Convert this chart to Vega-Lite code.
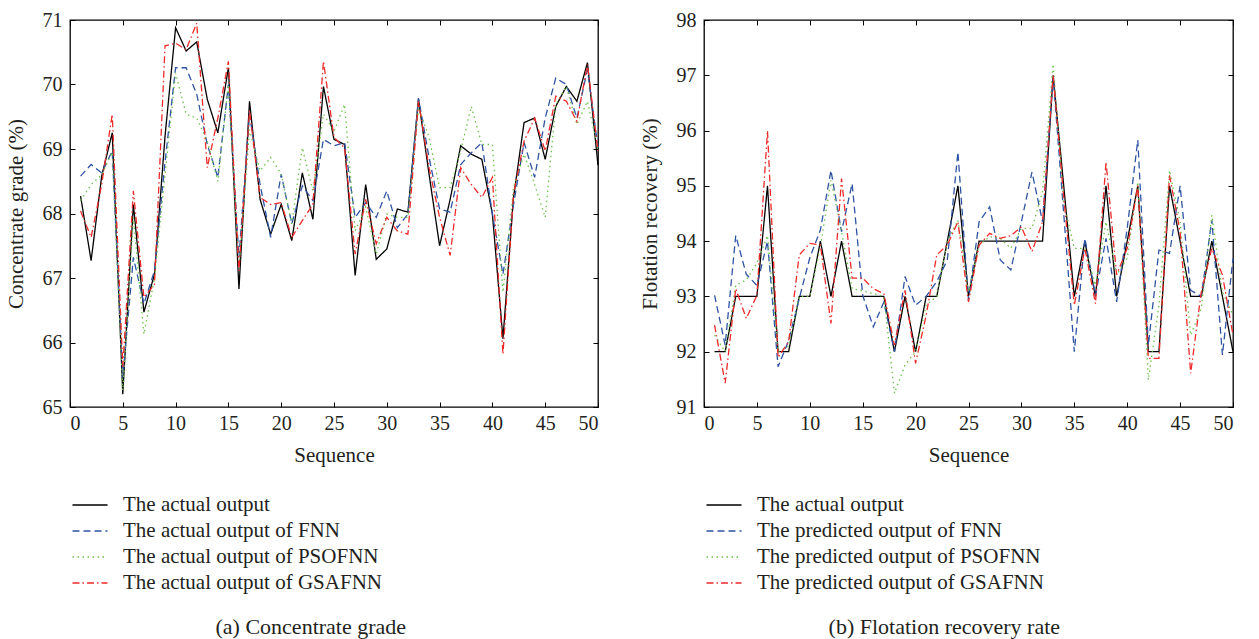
{
  "$schema": "https://vega.github.io/schema/vega-lite/v6.json",
  "padding": {"left": 4, "top": 9, "right": 5, "bottom": 0},
  "background": "white",
  "config": {
    "font": "Liberation Serif",
    "view": {"stroke": "#000", "strokeWidth": 1.3},
    "axis": {
      "labelFont": "Liberation Serif", "labelFontSize": 20, "labelColor": "#231f20",
      "titleFont": "Liberation Serif", "titleFontSize": 21, "titleFontWeight": "normal", "titleColor": "#231f20",
      "domain": false, "grid": false, "tickColor": "#000", "tickSize": -5, "tickWidth": 1
    },
    "legend": {"labelFont": "Liberation Serif", "labelFontSize": 21, "labelColor": "#231f20", "labelLimit": 0},
    "title": {"font": "Liberation Serif", "fontSize": 22, "fontWeight": "normal", "color": "#231f20"}
  },
  "resolve": {"scale": {"color": "independent", "strokeDash": "independent"}, "legend": {"color": "independent", "strokeDash": "independent"}},
  "datasets": {
    "grade": [
      {"seq":1,"a":68.27,"f":68.58,"p":68.2,"g":68.04},
      {"seq":2,"a":67.27,"f":68.76,"p":68.45,"g":67.63},
      {"seq":3,"a":68.58,"f":68.63,"p":68.6,"g":68.45},
      {"seq":4,"a":69.25,"f":68.97,"p":68.95,"g":69.54},
      {"seq":5,"a":65.2,"f":65.46,"p":65.26,"g":65.62},
      {"seq":6,"a":68.14,"f":67.32,"p":67.94,"g":68.35},
      {"seq":7,"a":66.47,"f":66.6,"p":66.13,"g":66.7},
      {"seq":8,"a":67.06,"f":67.11,"p":67.0,"g":66.9},
      {"seq":9,"a":69.2,"f":68.8,"p":68.6,"g":70.6},
      {"seq":10,"a":70.88,"f":70.26,"p":70.18,"g":70.64},
      {"seq":11,"a":70.52,"f":70.26,"p":69.54,"g":70.54},
      {"seq":12,"a":70.66,"f":69.85,"p":69.48,"g":70.95},
      {"seq":13,"a":69.77,"f":69.07,"p":69.12,"g":68.71},
      {"seq":14,"a":69.25,"f":68.56,"p":68.5,"g":69.48},
      {"seq":15,"a":70.26,"f":70.0,"p":70.0,"g":70.36},
      {"seq":16,"a":66.83,"f":67.32,"p":67.16,"g":67.11},
      {"seq":17,"a":69.74,"f":69.54,"p":69.3,"g":69.6},
      {"seq":18,"a":68.22,"f":68.45,"p":68.66,"g":68.25},
      {"seq":19,"a":67.68,"f":67.63,"p":68.87,"g":68.14},
      {"seq":20,"a":68.14,"f":68.61,"p":68.61,"g":68.17},
      {"seq":21,"a":67.58,"f":67.84,"p":67.84,"g":67.63},
      {"seq":22,"a":68.63,"f":68.43,"p":69.02,"g":67.89},
      {"seq":23,"a":67.91,"f":68.2,"p":68.35,"g":68.14},
      {"seq":24,"a":69.97,"f":69.15,"p":69.54,"g":70.36},
      {"seq":25,"a":69.15,"f":69.05,"p":69.28,"g":69.18},
      {"seq":26,"a":69.07,"f":69.1,"p":69.69,"g":69.02},
      {"seq":27,"a":67.04,"f":67.94,"p":67.73,"g":67.37},
      {"seq":28,"a":68.45,"f":68.17,"p":68.1,"g":68.22},
      {"seq":29,"a":67.29,"f":67.94,"p":67.37,"g":67.53},
      {"seq":30,"a":67.45,"f":68.35,"p":67.99,"g":67.94},
      {"seq":31,"a":68.07,"f":67.78,"p":67.94,"g":67.73},
      {"seq":32,"a":68.02,"f":67.99,"p":67.94,"g":67.68},
      {"seq":33,"a":69.77,"f":69.79,"p":69.64,"g":69.74},
      {"seq":34,"a":68.61,"f":68.87,"p":69.18,"g":68.71},
      {"seq":35,"a":67.5,"f":68.07,"p":68.4,"g":67.94},
      {"seq":36,"a":68.22,"f":68.02,"p":68.4,"g":67.35},
      {"seq":37,"a":69.05,"f":68.76,"p":68.97,"g":68.71},
      {"seq":38,"a":68.92,"f":68.94,"p":69.66,"g":68.45},
      {"seq":39,"a":68.84,"f":69.1,"p":69.07,"g":68.25},
      {"seq":40,"a":67.99,"f":67.99,"p":69.07,"g":68.56},
      {"seq":41,"a":66.06,"f":67.06,"p":66.78,"g":65.82},
      {"seq":42,"a":68.25,"f":68.14,"p":68.4,"g":68.3},
      {"seq":43,"a":69.41,"f":69.1,"p":68.92,"g":69.12},
      {"seq":44,"a":69.48,"f":68.56,"p":68.45,"g":69.48},
      {"seq":45,"a":68.84,"f":69.48,"p":67.94,"g":68.97},
      {"seq":46,"a":69.66,"f":70.1,"p":69.69,"g":69.82},
      {"seq":47,"a":69.97,"f":70.0,"p":69.97,"g":69.74},
      {"seq":48,"a":69.74,"f":69.48,"p":69.38,"g":69.43},
      {"seq":49,"a":70.34,"f":70.23,"p":69.74,"g":70.31},
      {"seq":50,"a":68.75,"f":69.02,"p":69.0,"g":68.97}
    ],
    "recovery": [
      {"seq":1,"a":92,"f":93.02,"p":92.3,"g":92.48},
      {"seq":2,"a":92,"f":92.12,"p":92.0,"g":91.43},
      {"seq":3,"a":93,"f":94.1,"p":93.2,"g":93.14},
      {"seq":4,"a":93,"f":93.4,"p":93.3,"g":92.6},
      {"seq":5,"a":93,"f":93.2,"p":93.6,"g":93.02},
      {"seq":6,"a":95,"f":94.0,"p":94.1,"g":96.0},
      {"seq":7,"a":92,"f":91.73,"p":92.0,"g":91.9},
      {"seq":8,"a":92,"f":92.2,"p":92.1,"g":92.18},
      {"seq":9,"a":93,"f":92.96,"p":93.0,"g":93.75},
      {"seq":10,"a":93,"f":93.7,"p":93.0,"g":93.96},
      {"seq":11,"a":94,"f":94.2,"p":93.9,"g":93.93},
      {"seq":12,"a":93,"f":95.28,"p":95.1,"g":92.51},
      {"seq":13,"a":94,"f":94.17,"p":94.17,"g":95.13},
      {"seq":14,"a":93,"f":95.04,"p":93.14,"g":93.33},
      {"seq":15,"a":93,"f":93.02,"p":93.1,"g":93.33},
      {"seq":16,"a":93,"f":92.45,"p":93.05,"g":93.14},
      {"seq":17,"a":93,"f":92.9,"p":93.0,"g":93.05},
      {"seq":18,"a":92,"f":92.0,"p":91.25,"g":92.12},
      {"seq":19,"a":93,"f":93.36,"p":91.76,"g":93.11},
      {"seq":20,"a":92,"f":92.84,"p":92.0,"g":91.79},
      {"seq":21,"a":93,"f":93.0,"p":92.84,"g":92.66},
      {"seq":22,"a":93,"f":93.27,"p":93.0,"g":93.75},
      {"seq":23,"a":94,"f":93.66,"p":94.0,"g":93.93},
      {"seq":24,"a":95,"f":95.61,"p":94.38,"g":94.35},
      {"seq":25,"a":93,"f":92.93,"p":93.08,"g":92.9},
      {"seq":26,"a":94,"f":94.35,"p":93.93,"g":93.93},
      {"seq":27,"a":94,"f":94.62,"p":94.08,"g":94.14},
      {"seq":28,"a":94,"f":93.66,"p":94.05,"g":94.05},
      {"seq":29,"a":94,"f":93.48,"p":93.87,"g":94.1},
      {"seq":30,"a":94,"f":94.35,"p":94.23,"g":94.26},
      {"seq":31,"a":94,"f":95.25,"p":94.23,"g":93.81},
      {"seq":32,"a":94,"f":94.35,"p":94.9,"g":94.35},
      {"seq":33,"a":97,"f":96.97,"p":97.2,"g":97.0},
      {"seq":34,"a":95,"f":94.5,"p":94.7,"g":94.8},
      {"seq":35,"a":93,"f":92.0,"p":93.87,"g":92.84},
      {"seq":36,"a":94,"f":94.05,"p":93.87,"g":93.87},
      {"seq":37,"a":93,"f":93.02,"p":93.2,"g":92.87},
      {"seq":38,"a":95,"f":94.05,"p":94.35,"g":95.43},
      {"seq":39,"a":93,"f":92.9,"p":93.39,"g":93.39},
      {"seq":40,"a":94,"f":94.23,"p":93.69,"g":93.87},
      {"seq":41,"a":95,"f":95.83,"p":95.07,"g":95.0},
      {"seq":42,"a":92,"f":92.12,"p":91.49,"g":91.88},
      {"seq":43,"a":92,"f":93.84,"p":92.84,"g":91.88},
      {"seq":44,"a":95,"f":93.78,"p":95.28,"g":95.19},
      {"seq":45,"a":94,"f":95.0,"p":94.35,"g":94.17},
      {"seq":46,"a":93,"f":93.11,"p":92.3,"g":91.61},
      {"seq":47,"a":93,"f":93.0,"p":92.78,"g":93.08},
      {"seq":48,"a":94,"f":94.38,"p":94.47,"g":93.87},
      {"seq":49,"a":93,"f":91.94,"p":93.08,"g":93.39},
      {"seq":50,"a":92,"f":93.69,"p":92.66,"g":92.3}
    ]
  },
  "spacing": 36,
  "hconcat": [
    {
      "width": 528, "height": 387,
      "data": {"name": "grade"},
      "title": {"text": "(a)  Concentrate grade", "orient": "bottom", "anchor": "middle", "frame": "bounds", "offset": 24, "dx": 8},
      "resolve": {"axis": {"x": "independent", "y": "independent"}},
      "layer": [
        {
          "transform": [{"fold": ["a", "f", "p", "g"], "as": ["key", "value"]}],
          "mark": {"type": "line", "strokeWidth": 1.3},
          "encoding": {
            "x": {"field": "seq", "type": "quantitative", "scale": {"domain": [0, 50], "nice": false},
                  "axis": {"values": [0,5,10,15,20,25,30,35,40,45,50], "title": "Sequence", "labelPadding": 11, "titlePadding": 11}},
            "y": {"field": "value", "type": "quantitative", "scale": {"domain": [65, 71], "nice": false, "zero": false},
                  "axis": {"values": [65,66,67,68,69,70,71], "title": "Concentrate grade (%)", "labelPadding": 13, "titlePadding": 16}},
            "color": {"field": "key", "type": "nominal",
              "scale": {"domain": ["a", "f", "p", "g"], "range": ["#000000", "#2f53a3", "#6cc24a", "#ee2a2a"]},
              "legend": {"orient": "none", "legendX": 9, "legendY": 474, "title": null, "symbolType": "M-1.75,0H1.75", "symbolSize": 400, "symbolStrokeWidth": 1.5, "labelOffset": 22, "rowPadding": 5, "direction": "vertical",
                "labelExpr": "{'a':'The actual output','f':'The actual output of FNN','p':'The actual output of PSOFNN','g':'The actual output of GSAFNN'}[datum.value]"}},
            "strokeDash": {"field": "key", "type": "nominal",
              "scale": {"domain": ["a", "f", "p", "g"], "range": [[1, 0], [7, 4], [1.5, 3.5], [7, 3, 1.5, 3]]},
              "legend": {"orient": "none", "legendX": 9, "legendY": 474, "title": null, "symbolType": "M-1.75,0H1.75", "symbolSize": 400, "symbolStrokeWidth": 1.5, "labelOffset": 22, "rowPadding": 5, "direction": "vertical",
                "labelExpr": "{'a':'The actual output','f':'The actual output of FNN','p':'The actual output of PSOFNN','g':'The actual output of GSAFNN'}[datum.value]"}}
          }
        },
        {
          "mark": {"type": "line", "opacity": 0},
          "encoding": {
            "x": {"field": "seq", "type": "quantitative", "scale": {"domain": [0, 50], "nice": false},
                  "axis": {"orient": "top", "values": [0,5,10,15,20,25,30,35,40,45,50], "labels": false, "title": null}},
            "y": {"field": "a", "type": "quantitative", "scale": {"domain": [65, 71], "nice": false, "zero": false},
                  "axis": {"orient": "right", "values": [65,66,67,68,69,70,71], "labels": false, "title": null}}
          }
        }
      ]
    },
    {
      "width": 529, "height": 387,
      "data": {"name": "recovery"},
      "title": {"text": "(b)  Flotation recovery rate", "orient": "bottom", "anchor": "middle", "frame": "bounds", "offset": 24, "dx": 7},
      "resolve": {"axis": {"x": "independent", "y": "independent"}},
      "layer": [
        {
          "transform": [{"fold": ["a", "f", "p", "g"], "as": ["key", "value"]}],
          "mark": {"type": "line", "strokeWidth": 1.3},
          "encoding": {
            "x": {"field": "seq", "type": "quantitative", "scale": {"domain": [0, 50], "nice": false},
                  "axis": {"values": [0,5,10,15,20,25,30,35,40,45,50], "title": "Sequence", "labelPadding": 11, "titlePadding": 11}},
            "y": {"field": "value", "type": "quantitative", "scale": {"domain": [91, 98], "nice": false, "zero": false},
                  "axis": {"values": [91,92,93,94,95,96,97,98], "title": "Flotation recovery (%)", "labelPadding": 13, "titlePadding": 16}},
            "color": {"field": "key", "type": "nominal",
              "scale": {"domain": ["a", "f", "p", "g"], "range": ["#000000", "#2f53a3", "#6cc24a", "#ee2a2a"]},
              "legend": {"orient": "none", "legendX": 9, "legendY": 474, "title": null, "symbolType": "M-1.75,0H1.75", "symbolSize": 400, "symbolStrokeWidth": 1.5, "labelOffset": 22, "rowPadding": 5, "direction": "vertical",
                "labelExpr": "{'a':'The actual output','f':'The predicted output of FNN','p':'The predicted output of PSOFNN','g':'The predicted output of GSAFNN'}[datum.value]"}},
            "strokeDash": {"field": "key", "type": "nominal",
              "scale": {"domain": ["a", "f", "p", "g"], "range": [[1, 0], [7, 4], [1.5, 3.5], [7, 3, 1.5, 3]]},
              "legend": {"orient": "none", "legendX": 9, "legendY": 474, "title": null, "symbolType": "M-1.75,0H1.75", "symbolSize": 400, "symbolStrokeWidth": 1.5, "labelOffset": 22, "rowPadding": 5, "direction": "vertical",
                "labelExpr": "{'a':'The actual output','f':'The predicted output of FNN','p':'The predicted output of PSOFNN','g':'The predicted output of GSAFNN'}[datum.value]"}}
          }
        },
        {
          "mark": {"type": "line", "opacity": 0},
          "encoding": {
            "x": {"field": "seq", "type": "quantitative", "scale": {"domain": [0, 50], "nice": false},
                  "axis": {"orient": "top", "values": [0,5,10,15,20,25,30,35,40,45,50], "labels": false, "title": null}},
            "y": {"field": "a", "type": "quantitative", "scale": {"domain": [91, 98], "nice": false, "zero": false},
                  "axis": {"orient": "right", "values": [91,92,93,94,95,96,97,98], "labels": false, "title": null}}
          }
        }
      ]
    }
  ]
}
